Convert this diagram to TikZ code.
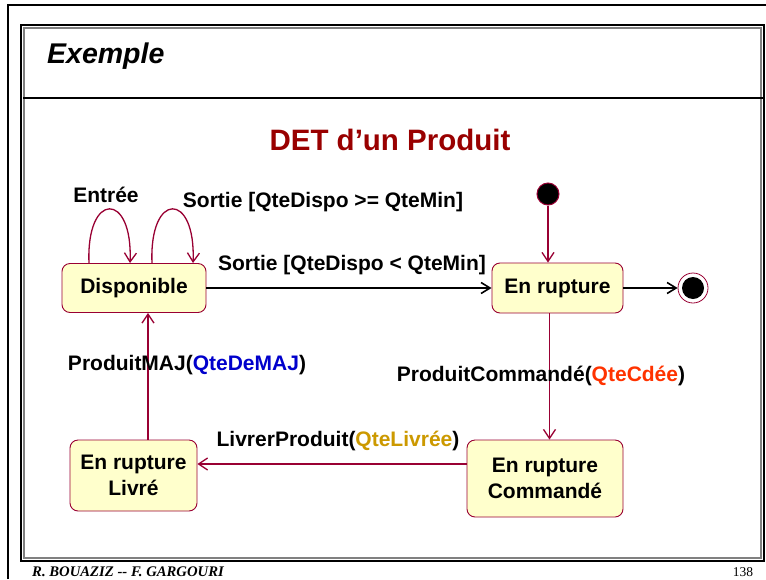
\documentclass[tikz,border=0pt]{standalone}
\usepackage{fontspec}
\setmainfont{Liberation Sans}
\newfontfamily\serifft{Liberation Serif}
\usetikzlibrary{arrows.meta}
\definecolor{wine}{RGB}{153,0,51}
\definecolor{statefill}{RGB}{255,255,204}
\definecolor{titlered}{RGB}{153,0,0}
\definecolor{majblue}{RGB}{0,0,204}
\definecolor{cdered}{RGB}{255,51,0}
\definecolor{livgold}{RGB}{204,153,0}
\begin{document}
\begin{tikzpicture}[x=1pt,y=-1pt,
  state/.style={draw=wine, fill=statefill, rounded corners=8pt, line width=0.9pt,
    font=\fontsize{21}{26}\selectfont\bfseries, align=center, inner sep=0pt},
  lbl/.style={font=\fontsize{21}{26}\selectfont\bfseries, inner sep=0pt},
  tr/.style={draw=wine, line width=1.3pt, -{Straight Barb[length=9pt,width=12pt]}},
  trk/.style={draw=black, line width=1.6pt, -{Straight Barb[length=9pt,width=11pt]}},
  frame/.style={line width=1.5pt}
]
\useasboundingbox (0,0) rectangle (766,579);
\fill[white] (0,0) rectangle (766,579);
% outer frame
\draw[frame] (8,579) -- (8,5) -- (766,5);
% inner panel
\draw[frame, gray] (24,28) rectangle (761,558);
\draw[frame] (21,25) rectangle (764,561);
\draw[frame] (23,98) -- (764,98);
\node[font=\fontsize{28.5}{34}\selectfont\bfseries\itshape, anchor=west, inner sep=0pt] (ex) at (47,56) {Exemple};
\node[font=\fontsize{29.5}{34}\selectfont\bfseries, text=titlered, inner sep=0pt] (title) at (390,140) {DET d’un Produit};
% states
\node[state, minimum width=144pt, minimum height=49pt] (disp) at (134,288) {Disponible};
\node[state, minimum width=131pt, minimum height=50pt] (rupt) at (557.5,288) {En rupture};
\node[state, minimum width=156pt, minimum height=77pt] (cmd) at (545,478.5) {En rupture\\Commandé};
\node[state, minimum width=127pt, minimum height=71pt] (livr) at (133.5,475.5) {En rupture\\Livré};
\node[circle, fill=black, draw=wine, line width=1pt, minimum size=22pt, inner sep=0pt] (init) at (548,194) {};
\node[circle, fill=white, draw=wine, line width=0.8pt, minimum size=30pt, inner sep=0pt] (fin) at (693,288) {};
\node[circle, fill=black, minimum size=22pt, inner sep=0pt] (fincore) at (fin.center) {};
% transitions
\draw[tr] ([xshift=-45pt]disp.north) .. controls +(-3,-72) and +(3,-72) .. ([xshift=-4pt]disp.north);
\draw[tr] ([xshift=18pt]disp.north) .. controls +(-3,-72) and +(3,-72) .. ([xshift=59pt]disp.north);
\draw[trk] (disp.east) -- (rupt.west);
\draw[trk] (rupt.east) -- (fin.west);
\draw[tr] (init.south) -- (init.south |- rupt.north);
\draw[tr] ([xshift=-8pt]rupt.south) -- ([xshift=-8pt]rupt.south |- cmd.north);
\draw[tr] ([yshift=14.5pt]cmd.west) -- ([yshift=14.5pt]cmd.west -| livr.east);
\draw[tr] ([xshift=14.5pt]livr.north) -- ([xshift=14.5pt]livr.north |- disp.south);
% labels
\node[lbl] (lEntree) at (106,195) {Entrée};
\node[lbl] (lS1) at (323,202) {Sortie [QteDispo >= QteMin]};
\node[lbl] (lS2) at (352,265) {Sortie [QteDispo < QteMin]};
\node[lbl] (lMAJ) at (187,365) {ProduitMAJ(\textcolor{majblue}{QteDeMAJ})};
\node[lbl] (lCmd) at (541,376) {ProduitCommandé(\textcolor{cdered}{QteCdée})};
\node[lbl] (lLiv) at (338,441) {LivrerProduit(\textcolor{livgold}{QteLivrée})};
% footer
\node[font=\serifft\fontsize{14.7}{17}\selectfont\bfseries\itshape, anchor=west, inner sep=0pt] (auth) at (32,572) {R. BOUAZIZ {-}{-} F. GARGOURI};
\node[font=\serifft\fontsize{13.5}{15}\selectfont, inner sep=0pt] (pg) at (743,572) {138};
\end{tikzpicture}
\end{document}
